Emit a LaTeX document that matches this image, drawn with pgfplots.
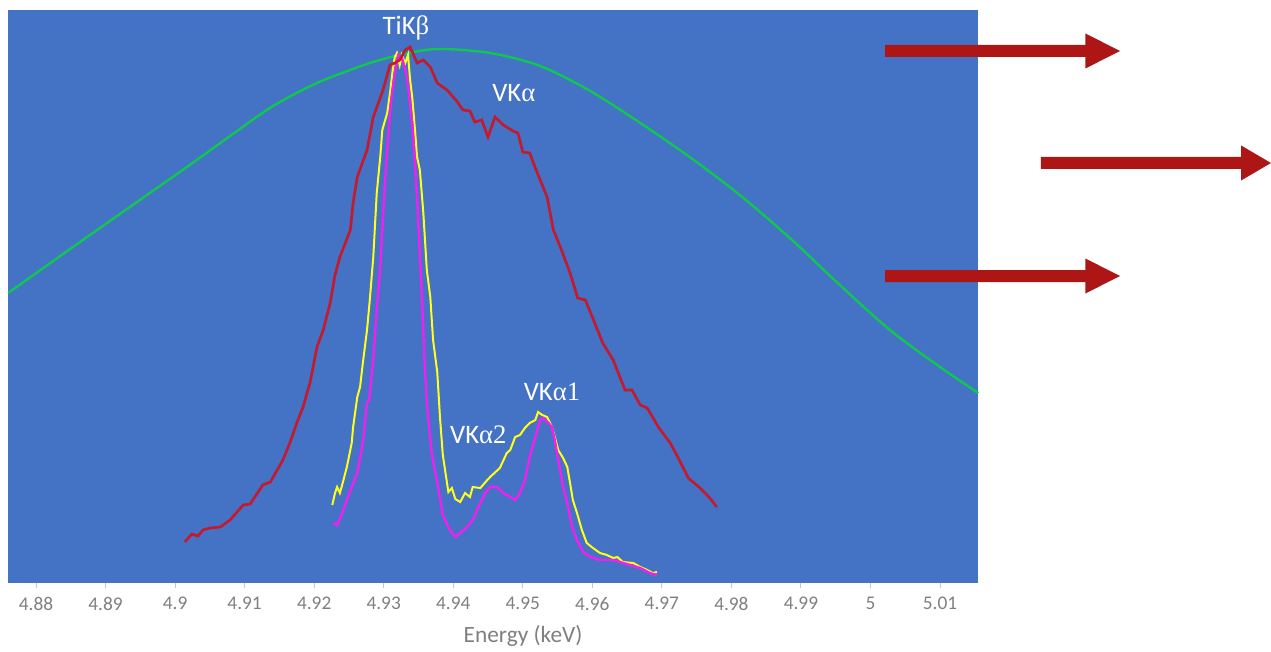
\documentclass[border=0pt]{standalone}
\usepackage{pgfplots}
\pgfplotsset{compat=1.18}
\usepackage{fontspec}
\setmainfont{Carlito}
\newfontfamily\symb{Liberation Serif}
\definecolor{bgblue}{HTML}{4472C4}
\definecolor{redline}{HTML}{C41A2E}
\definecolor{arrowred}{HTML}{AE1515}
\definecolor{greenline}{HTML}{10C850}
\definecolor{yel}{HTML}{FFFF1A}
\definecolor{mag}{HTML}{F020F0}
\definecolor{txtgray}{HTML}{7F7F7F}
\begin{document}
\begin{tikzpicture}
\begin{axis}[
  scale only axis, width=727.5pt, height=429.75pt,
  xmin=4.87597, xmax=5.01547, ymin=0, ymax=573,
  clip=false,
  axis background/.style={fill=bgblue},
  axis line style={draw=none},
  ytick=\empty,
  xtick={4.88,4.89,4.90,4.91,4.92,4.93,4.94,4.95,4.96,4.97,4.98,4.99,5.00,5.01},
  xticklabels={4.88,4.89,4.9,4.91,4.92,4.93,4.94,4.95,4.96,4.97,4.98,4.99,5,5.01},
  xtick pos=bottom,
  tick align=outside,
  major tick length=3.75pt,
  xtick style={draw=gray!45, line width=0.75pt},
  xticklabel style={font=\fontsize{14.5}{15}\selectfont, text=txtgray, yshift=-3.5pt},
  xlabel={Energy (keV)},
  xlabel style={at={(axis description cs:0.531,0)}, anchor=center, yshift=-39.75pt, font=\fontsize{17.5}{19}\selectfont, text=txtgray},
]
% green envelope
\addplot[greenline, line width=1.8pt, smooth, tension=0.5] coordinates {
(4.8760,290) (4.8845,332) (4.8939,378) (4.9017,416) (4.9083,449) (4.9141,477)
(4.9204,500) (4.9276,519) (4.9323,528) (4.9377,534) (4.9453,530) (4.9525,517)
(4.9597,492) (4.9669,460) (4.9740,426) (4.9812,388) (4.9884,345) (4.9956,298)
(5.0028,253) (5.0100,216) (5.0155,190)
};
% yellow
\addplot[yel, line width=1.5pt] coordinates {
(4.9226,78) (4.9230,90) (4.9233,96) (4.9237,90) (4.9241,100) (4.9247,116)
(4.9254,140) (4.9256,156) (4.9262,186) (4.9266,196) (4.9270,220) (4.9276,253)
(4.9280,283) (4.9285,326) (4.9290,390) (4.9295,426) (4.9298,453) (4.9305,470)
(4.9309,490) (4.9313,513) (4.9316,526) (4.9319,530) (4.9323,518) (4.9326,528)
(4.9331,520) (4.9335,528) (4.9338,503) (4.9341,486) (4.9345,453) (4.9348,426)
(4.9352,413) (4.9357,370) (4.9362,313) (4.9367,286) (4.9371,243) (4.9377,211)
(4.9381,165) (4.9385,128) (4.9393,91) (4.9398,95) (4.9403,84) (4.9410,81)
(4.9417,90) (4.9424,86) (4.9428,96) (4.9439,95) (4.9449,103) (4.9453,106)
(4.9467,115) (4.9477,130) (4.9482,133) (4.9489,146) (4.9496,148) (4.9503,155)
(4.9510,160) (4.9518,163) (4.9522,171) (4.9528,168) (4.9535,166) (4.9542,156)
(4.9546,146) (4.9551,133) (4.9558,125) (4.9564,116) (4.9568,100) (4.9572,83)
(4.9578,70) (4.9585,53) (4.9592,40) (4.9601,35) (4.9611,30) (4.9621,28)
(4.9630,25) (4.9636,26) (4.9644,21) (4.9659,20) (4.9669,16) (4.9679,13)
(4.9687,10) (4.9693,11)
};
% magenta
\addplot[mag, line width=1.8pt] coordinates {
(4.9227,60) (4.9233,58) (4.9237,64) (4.9247,83) (4.9254,96) (4.9262,110)
(4.9270,140) (4.9276,180) (4.9279,183) (4.9285,223) (4.9290,273) (4.9295,315)
(4.9302,403) (4.9309,470) (4.9312,490) (4.9316,510) (4.9321,528) (4.9326,526)
(4.9331,513) (4.9334,503) (4.9341,460) (4.9348,386) (4.9355,286) (4.9359,218)
(4.9362,180) (4.9369,130) (4.9377,101) (4.9385,68) (4.9395,53) (4.9403,46)
(4.9410,50) (4.9420,56) (4.9428,63) (4.9439,80) (4.9446,90) (4.9453,96)
(4.9463,96) (4.9472,90) (4.9482,86) (4.9489,83) (4.9496,90) (4.9503,103)
(4.9510,126) (4.9518,146) (4.9525,163) (4.9529,165) (4.9536,161) (4.9542,156)
(4.9546,143) (4.9551,123) (4.9558,96) (4.9564,80) (4.9571,56) (4.9578,43)
(4.9587,31) (4.9597,26) (4.9611,23) (4.9630,23) (4.9640,21) (4.9654,18)
(4.9669,15) (4.9683,10) (4.9693,8)
};
% red VKalpha
\addplot[redline, line width=2pt] coordinates {
(4.9014,41) (4.9024,49) (4.9033,47) (4.9040,53) (4.9050,55) (4.9065,56)
(4.9079,63) (4.9098,78) (4.9108,79) (4.9126,98) (4.9137,101) (4.9155,123)
(4.9165,140) (4.9175,160) (4.9184,176) (4.9194,200) (4.9204,236) (4.9213,253)
(4.9223,280) (4.9230,308) (4.9237,326) (4.9252,353) (4.9256,380) (4.9262,406)
(4.9276,433) (4.9285,466) (4.9299,493) (4.9309,518) (4.9316,520) (4.9323,523)
(4.9331,533) (4.9338,536) (4.9348,520) (4.9357,523) (4.9367,516) (4.9377,500)
(4.9391,493) (4.9405,482) (4.9414,473) (4.9424,472) (4.9431,461) (4.9441,463)
(4.9450,446) (4.9460,466) (4.9472,458) (4.9486,452) (4.9493,450) (4.9500,431)
(4.9510,430) (4.9518,415) (4.9535,386) (4.9544,353) (4.9554,336) (4.9568,310)
(4.9579,285) (4.9590,283) (4.9600,266) (4.9615,240) (4.9630,223) (4.9647,193)
(4.9657,193) (4.9669,178) (4.9679,175) (4.9695,156) (4.9712,140) (4.9723,126)
(4.9738,105) (4.9755,95) (4.9769,85) (4.9779,76)
};
% labels
\node[anchor=base, text=white, font=\fontsize{20}{21}\selectfont] at (axis cs:4.9332,548) {TiK{\symb β}};
\node[anchor=base, text=white, font=\fontsize{20}{21}\selectfont] at (axis cs:4.9487,481) {VK{\symb α}};
\node[anchor=base, text=white, font=\fontsize{20}{21}\selectfont] at (axis cs:4.9542,183) {VK{\symb α1}};
\node[anchor=base, text=white, font=\fontsize{20}{21}\selectfont] at (axis cs:4.9436,140) {VK{\symb α2}};
% arrows
\fill[arrowred] (axis cs:5.0021,526) -- (axis cs:5.0309,526) -- (axis cs:5.0309,514.5) -- (axis cs:5.0359,532) -- (axis cs:5.0309,549.5) -- (axis cs:5.0309,538) -- (axis cs:5.0021,538) -- cycle;
\fill[arrowred] (axis cs:5.0245,414) -- (axis cs:5.0533,414) -- (axis cs:5.0533,402.5) -- (axis cs:5.0576,420) -- (axis cs:5.0533,437.5) -- (axis cs:5.0533,426) -- (axis cs:5.0245,426) -- cycle;
\fill[arrowred] (axis cs:5.0021,301) -- (axis cs:5.0309,301) -- (axis cs:5.0309,289.5) -- (axis cs:5.0359,307) -- (axis cs:5.0309,324.5) -- (axis cs:5.0309,313) -- (axis cs:5.0021,313) -- cycle;
% page extent
\path (axis cs:4.87482,-66) rectangle (axis cs:5.0576,583);
\end{axis}
\end{tikzpicture}
\end{document}
